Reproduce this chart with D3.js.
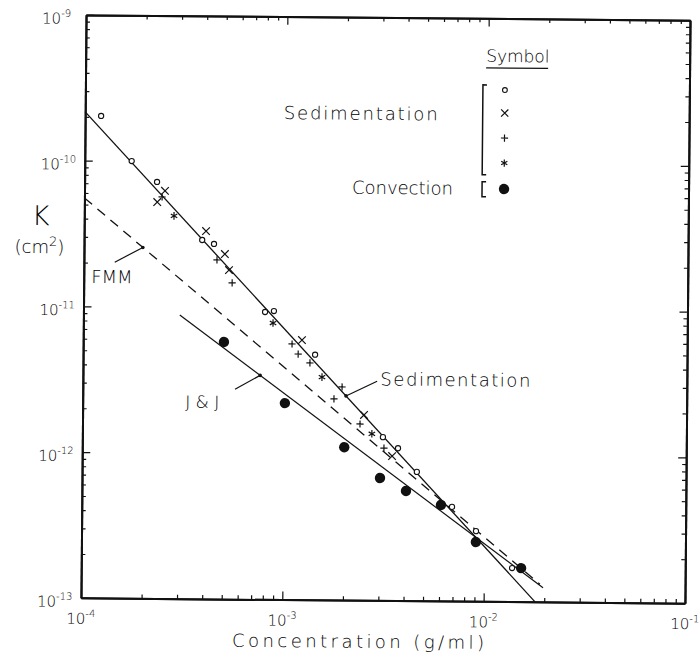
<!DOCTYPE html>
<html>
<head>
<meta charset="utf-8">
<title>K vs concentration</title>
<script src="https://d3js.org/d3.v7.min.js"></script>
<style>
  body { margin: 0; background: #fff; }
  text { font-family: "DejaVu Sans", sans-serif; font-weight: 200; fill: #000; }
</style>
</head>
<body>
<script>
// ---- data ----
const xTickExp = [-4, -3, -2, -1];
const yTickExp = [-9, -10, -11, -12, -13];

// sedimentation, open circles
const circX = [1.20e-4, 1.71e-4, 2.29e-4, 3.86e-4, 4.42e-4, 7.98e-4, 8.83e-4, 1.42e-3, 3.11e-3, 3.70e-3, 4.6e-3, 6.9e-3, 9.1e-3, 1.38e-2];
const circY = [2.03e-10, 1.0e-10, 7.21e-11, 2.9e-11, 2.73e-11, 9.38e-12, 9.53e-12, 4.81e-12, 1.32e-12, 1.11e-12, 7.66e-13, 4.43e-13, 3.03e-13, 1.70e-13];
// sedimentation, x
const crossX = [2.51e-4, 2.3e-4, 4.03e-4, 5.01e-4, 5.26e-4, 1.22e-3, 2.50e-3, 3.46e-3];
const crossY = [6.27e-11, 5.25e-11, 3.34e-11, 2.33e-11, 1.81e-11, 6.05e-12, 1.87e-12, 9.8e-13];
// sedimentation, +
const plusX = [2.43e-4, 4.58e-4, 5.46e-4, 1.09e-3, 1.17e-3, 1.34e-3, 1.94e-3, 1.77e-3, 2.39e-3, 3.15e-3];
const plusY = [5.69e-11, 2.12e-11, 1.48e-11, 5.68e-12, 4.85e-12, 4.22e-12, 2.9e-12, 2.4e-12, 1.62e-12, 1.11e-12];
// sedimentation, *
const starX = [2.79e-4, 8.75e-4, 1.54e-3, 2.74e-3];
const starY = [4.23e-11, 7.89e-12, 3.38e-12, 1.39e-12];
// convection, filled dots
const convX = [5.0e-4, 1.01e-3, 2.0e-3, 3.02e-3, 4.07e-3, 6.08e-3, 9.1e-3, 1.53e-2];
const convY = [5.81e-12, 2.23e-12, 1.12e-12, 6.92e-13, 5.66e-13, 4.56e-13, 2.55e-13, 1.70e-13];

// fitted / theory lines (end points)
const sedLineX = [1.0e-4, 1.80e-2];
const sedLineY = [2.16e-10, 1.0e-13];
const jjLineX = [3.01e-4, 1.97e-2];
const jjLineY = [8.83e-12, 1.25e-13];
const fmmLineX = [1.0e-4, 1.90e-2];
const fmmLineY = [5.55e-11, 1.32e-13];

// where the label leaders touch each line
const annNames = ["FMM", "J & J", "Sedimentation"];
const annX = [1.96e-4, 7.59e-4, 2.03e-3];

// ---- layout ----
const W = 699, H = 665;
const L = 83.5, R = 687.5, T = 17.5, B = 600.5;

const svg = d3.select("body").append("svg").attr("width", W).attr("height", H);
svg.append("rect").attr("width", W).attr("height", H).attr("fill", "#fff");
// the scanned figure sits slightly rotated
const g = svg.append("g").attr("transform", "rotate(0.5,385.5,309)");

const x = d3.scaleLog().domain([1e-4, 1e-1]).range([L, R]);
const y = d3.scaleLog().domain([1e-13, 1e-9]).range([B, T]);

const xMajor = xTickExp.map(e => Math.pow(10, e));
const yMajor = yTickExp.map(e => Math.pow(10, e));
const xMinor = [], yMinor = [];
for (let d = -4; d < -1; d++) for (let k = 2; k < 10; k++) xMinor.push(k * Math.pow(10, d));
for (let d = -13; d < -9; d++) for (let k = 2; k < 10; k++) yMinor.push(k * Math.pow(10, d));

function styleAxis(sel) {
  sel.selectAll(".domain").attr("stroke", "#111").attr("stroke-width", 2);
  sel.selectAll(".tick line").attr("stroke", "#111").attr("stroke-width", 1.2);
}
const axes = [
  [d3.axisBottom, `translate(0,${B})`, x, xMajor, xMinor],
  [d3.axisTop, `translate(0,${T})`, x, xMajor, xMinor],
  [d3.axisLeft, `translate(${L},0)`, y, yMajor, yMinor],
  [d3.axisRight, `translate(${R},0)`, y, yMajor, yMinor]
];
axes.forEach(([fn, tr, sc, maj, min]) => {
  g.append("g").attr("transform", tr)
    .call(fn(sc).tickValues(min).tickSize(-4).tickSizeOuter(0).tickFormat(""))
    .call(styleAxis);
  g.append("g").attr("transform", tr)
    .call(fn(sc).tickValues(maj).tickSize(-8).tickSizeOuter(0).tickFormat(""))
    .call(styleAxis);
});

// tick labels 10^n
function powLabel(sel, e) {
  sel.append("tspan").text("10");
  sel.append("tspan").attr("dy", -7).attr("font-size", 10).text("-" + Math.abs(e));
}
xTickExp.forEach(e => {
  g.append("text").attr("x", x(Math.pow(10, e))).attr("y", B + 26)
    .attr("text-anchor", "middle").attr("font-size", 15).call(powLabel, e);
});
yTickExp.forEach(e => {
  g.append("text").attr("x", L - 44).attr("y", y(Math.pow(10, e)) + 9)
    .attr("font-size", 15).call(powLabel, e);
});

// axis titles
g.append("text").attr("x", 235).attr("y", 648).attr("font-size", 18)
  .attr("textLength", 252).attr("lengthAdjust", "spacing").text("Concentration (g/ml)");
g.append("text").attr("x", 31).attr("y", 228).attr("font-size", 27).text("K");
const cm = g.append("text").attr("x", 14).attr("y", 256).attr("font-size", 18);
cm.append("tspan").text("(cm");
cm.append("tspan").attr("dy", -7).attr("font-size", 13).text("2");
cm.append("tspan").attr("dy", 7).text(")");

// lines
const lineGen = d3.line().x(d => x(d[0])).y(d => y(d[1]));
const zip = (a, b) => a.map((v, i) => [v, b[i]]);
g.append("path").datum(zip(sedLineX, sedLineY)).attr("d", lineGen)
  .attr("fill", "none").attr("stroke", "#111").attr("stroke-width", 1.3);
g.append("path").datum(zip(jjLineX, jjLineY)).attr("d", lineGen)
  .attr("fill", "none").attr("stroke", "#111").attr("stroke-width", 1.2);
g.append("path").datum(zip(fmmLineX, fmmLineY)).attr("d", lineGen)
  .attr("fill", "none").attr("stroke", "#111").attr("stroke-width", 1.3)
  .attr("stroke-dasharray", "10,7");

// markers
const shapes = {
  x: s => `M${-s},${-s}L${s},${s}M${-s},${s}L${s},${-s}`,
  plus: s => `M${-s},0H${s}M0,${-s}V${s}`,
  star: s => `M0,${-s}V${s}M${-s * 0.85},${-s * 0.5}L${s * 0.85},${s * 0.5}M${-s * 0.85},${s * 0.5}L${s * 0.85},${-s * 0.5}`
};
function drawPaths(px, py, shape, s) {
  g.append("g").selectAll("path").data(zip(px, py)).join("path")
    .attr("transform", d => `translate(${x(d[0])},${y(d[1])})`)
    .attr("d", shapes[shape](s)).attr("fill", "none")
    .attr("stroke", "#111").attr("stroke-width", 1.2);
}
g.append("g").selectAll("circle").data(zip(circX, circY)).join("circle")
  .attr("cx", d => x(d[0])).attr("cy", d => y(d[1])).attr("r", 2.6)
  .attr("fill", "#fff").attr("stroke", "#111").attr("stroke-width", 1.1);
drawPaths(crossX, crossY, "x", 3.8);
drawPaths(plusX, plusY, "plus", 3.6);
drawPaths(starX, starY, "star", 3.8);
g.append("g").selectAll("circle").data(zip(convX, convY)).join("circle")
  .attr("cx", d => x(d[0])).attr("cy", d => y(d[1])).attr("r", 5.2).attr("fill", "#111");

// annotations with leaders
function onLine(lx, ly, xv) {
  const t = (Math.log10(xv) - Math.log10(lx[0])) / (Math.log10(lx[1]) - Math.log10(lx[0]));
  return Math.pow(10, Math.log10(ly[0]) + t * (Math.log10(ly[1]) - Math.log10(ly[0])));
}
const annLines = [[fmmLineX, fmmLineY], [jjLineX, jjLineY], [sedLineX, sedLineY]];
const annLead = [[-28, 15], [-25, 14], [31, -15]];
const annText = [[91, 285.5, 18, null], [186, 409.5, 17, null], [381, 385.5, 18, 150]];
annNames.forEach((name, i) => {
  const ax = x(annX[i]), ay = y(onLine(annLines[i][0], annLines[i][1], annX[i]));
  g.append("line").attr("x1", ax).attr("y1", ay)
    .attr("x2", ax + annLead[i][0]).attr("y2", ay + annLead[i][1])
    .attr("stroke", "#111").attr("stroke-width", 1.2);
  g.append("circle").attr("cx", ax).attr("cy", ay).attr("r", 1.8).attr("fill", "#111");
  const t = g.append("text").attr("x", annText[i][0]).attr("y", annText[i][1])
    .attr("font-size", annText[i][2]).text(name);
  if (annText[i][3]) t.attr("textLength", annText[i][3]).attr("lengthAdjust", "spacing");
});

// legend
const lg = g.append("g");
lg.append("text").attr("x", 484).attr("y", 61).attr("font-size", 17).text("Symbol");
lg.append("line").attr("x1", 484).attr("x2", 546).attr("y1", 67).attr("y2", 67)
  .attr("stroke", "#111").attr("stroke-width", 1.3);
lg.append("text").attr("x", 282).attr("y", 120).attr("font-size", 18)
  .attr("textLength", 154).attr("lengthAdjust", "spacing").text("Sedimentation");
lg.append("path").attr("d", "M485,84H481V174H485").attr("fill", "none")
  .attr("stroke", "#111").attr("stroke-width", 1.5);
lg.append("text").attr("x", 452).attr("y", 194).attr("text-anchor", "end")
  .attr("font-size", 18).text("Convection");
lg.append("path").attr("d", "M485,181H481V196H485").attr("fill", "none")
  .attr("stroke", "#111").attr("stroke-width", 1.5);
const legY = [89, 112, 137, 162];
lg.append("circle").attr("cx", 503).attr("cy", legY[0]).attr("r", 2.4)
  .attr("fill", "#fff").attr("stroke", "#111").attr("stroke-width", 1.1);
["x", "plus", "star"].forEach((s, i) => {
  lg.append("path").attr("transform", `translate(503,${legY[i + 1]})`)
    .attr("d", shapes[s](3.6)).attr("fill", "none").attr("stroke", "#111").attr("stroke-width", 1.2);
});
lg.append("circle").attr("cx", 503).attr("cy", 188).attr("r", 5.2).attr("fill", "#111");
</script>
</body>
</html>
